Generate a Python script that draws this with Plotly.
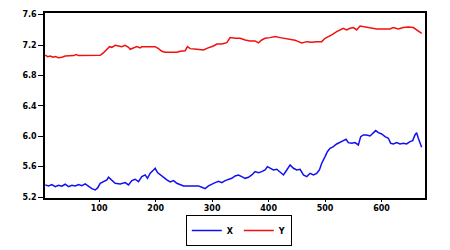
import plotly.graph_objects as go

x_obs = [4.4, 10.3, 16.2, 22.1, 28.0, 33.9, 39.8, 45.7, 51.6, 57.5, 63.4, 69.3, 75.2, 81.1, 87.0, 92.9,
         97.1, 101.8, 107.7, 113.6, 116.5, 122.4, 128.3, 137.2, 146.0, 151.9, 157.8, 163.7, 169.6,
         175.5, 181.4, 185.5, 190.3, 196.2, 199.1, 203.3, 208.0, 213.9, 219.8, 225.7, 231.6, 237.5,
         243.4, 249.3, 258.1, 267.0, 275.8, 281.7, 287.6, 293.5, 299.4, 305.3, 311.2, 317.1, 323.0,
         328.9, 334.8, 340.7, 346.6, 352.5, 358.4, 364.3, 370.2, 376.1, 382.0, 387.9, 393.8, 397.9,
         402.7, 408.6, 414.5, 420.4, 426.3, 432.2, 438.1, 444.0, 449.9, 455.8, 461.7, 467.6, 473.5,
         479.4, 485.3, 490.0, 494.1, 500.0, 504.1, 508.8, 514.7, 520.6, 526.5, 532.4, 537.2, 541.3,
         547.2, 553.1, 559.0, 563.1, 567.8, 573.7, 579.6, 585.5, 589.7, 594.4, 600.3, 606.2, 612.1,
         616.2, 621.0, 626.8, 632.7, 638.6, 644.5, 650.4, 655.2, 659.3, 662.2, 665.2, 668.1, 671.1]
x_val = [5.36, 5.346, 5.363, 5.337, 5.355, 5.342, 5.368, 5.337, 5.355, 5.346, 5.363, 5.350, 5.372,
         5.337, 5.311, 5.293, 5.320, 5.381, 5.398, 5.425, 5.460, 5.416, 5.381, 5.372, 5.390, 5.359,
         5.416, 5.434, 5.403, 5.469, 5.491, 5.447, 5.513, 5.556, 5.578, 5.521, 5.491, 5.460, 5.425,
         5.398, 5.416, 5.381, 5.359, 5.346, 5.346, 5.346, 5.346, 5.328, 5.311, 5.346, 5.372, 5.390,
         5.407, 5.390, 5.416, 5.434, 5.447, 5.477, 5.490, 5.468, 5.446, 5.460, 5.490, 5.534, 5.521,
         5.534, 5.556, 5.600, 5.578, 5.556, 5.565, 5.521, 5.490, 5.556, 5.622, 5.578, 5.556, 5.565,
         5.490, 5.468, 5.512, 5.490, 5.512, 5.556, 5.644, 5.732, 5.797, 5.841, 5.863, 5.898, 5.916,
         5.942, 5.960, 5.916, 5.907, 5.916, 5.885, 5.995, 6.017, 6.017, 6.003, 6.039, 6.074, 6.047,
         6.030, 5.995, 5.973, 5.907, 5.898, 5.916, 5.898, 5.907, 5.898, 5.929, 5.942, 6.017, 6.047,
         5.973, 5.907, 5.854]

# Series Y (red)
y_obs = [4.4, 8.6, 13.3, 18.0, 22.1, 28.0, 33.9, 39.8, 54.6, 59.3, 63.4, 84.1, 101.8, 107.7, 113.6,
         118.3, 122.4, 128.3, 134.2, 140.1, 146.0, 151.9, 154.9, 160.8, 166.7, 172.6, 175.5, 184.4,
         199.1, 205.0, 210.9, 216.8, 225.7, 237.5, 243.4, 252.2, 256.3, 261.1, 272.9, 284.7, 290.6,
         296.5, 302.4, 308.3, 317.1, 326.0, 331.9, 340.7, 349.6, 358.4, 367.3, 376.1, 382.0, 387.9,
         393.8, 402.7, 411.5, 420.4, 429.2, 438.1, 446.9, 452.8, 458.7, 467.6, 476.4, 485.3, 494.1,
         500.0, 505.9, 511.8, 520.6, 526.5, 532.4, 538.3, 544.2, 550.1, 556.0, 561.9, 567.8, 576.6,
         585.5, 591.4, 603.2, 615.0, 620.9, 629.8, 638.6, 647.5, 656.3, 662.2, 668.1, 671.1]
y_val = [7.069, 7.048, 7.056, 7.039, 7.048, 7.034, 7.039, 7.056, 7.061, 7.074, 7.061, 7.061, 7.065,
         7.100, 7.144, 7.179, 7.170, 7.197, 7.188, 7.179, 7.197, 7.170, 7.144, 7.162, 7.179, 7.162,
         7.179, 7.179, 7.179, 7.153, 7.118, 7.105, 7.105, 7.105, 7.118, 7.126, 7.179, 7.153, 7.144,
         7.135, 7.157, 7.170, 7.188, 7.214, 7.214, 7.232, 7.298, 7.289, 7.289, 7.267, 7.254, 7.254,
         7.228, 7.267, 7.289, 7.298, 7.311, 7.298, 7.289, 7.280, 7.263, 7.245, 7.228, 7.245, 7.236,
         7.245, 7.245, 7.289, 7.311, 7.333, 7.377, 7.399, 7.421, 7.399, 7.421, 7.430, 7.399, 7.451,
         7.443, 7.430, 7.421, 7.412, 7.412, 7.412, 7.430, 7.412, 7.430, 7.439, 7.430, 7.399, 7.368,
         7.355]

x_ticks = [100, 200, 300, 400, 500, 600]
y_ticks = [5.2, 5.6, 6.0, 6.4, 6.8, 7.2, 7.6]

fig = go.Figure()
fig.add_trace(go.Scatter(x=x_obs, y=x_val, mode="lines", name="X",
                         line=dict(color="#1010F0", width=1.5)))
fig.add_trace(go.Scatter(x=y_obs, y=y_val, mode="lines", name="Y",
                         line=dict(color="#F01010", width=1.5)))

font = dict(family="DejaVu Sans, Arial, sans-serif", size=8, color="black", weight="bold")
fig.update_layout(
    width=450, height=250,
    margin=dict(l=45, r=25, t=13, b=52, autoexpand=False),
    paper_bgcolor="white", plot_bgcolor="white",
    font=font,
    showlegend=True,
    legend=dict(orientation="h", x=0.51, xanchor="center",
                yref="container", y=0.016, yanchor="bottom",
                bordercolor="black", borderwidth=1, font=dict(size=8),
                itemwidth=30, tracegroupgap=0),
    xaxis=dict(range=[4, 677], tickvals=x_ticks, showgrid=False, zeroline=False,
               showline=True, linecolor="black", linewidth=1.5, mirror=True,
               ticks="outside", ticklen=2, tickcolor="black", tickfont=font),
    yaxis=dict(range=[5.187, 7.622], tickvals=y_ticks, tickformat=".1f", showgrid=False,
               zeroline=False, showline=True, linecolor="black", linewidth=1.5, mirror=True,
               ticks="outside", ticklen=5, tickcolor="black", tickfont=font),
)

fig.write_html("out.html")
